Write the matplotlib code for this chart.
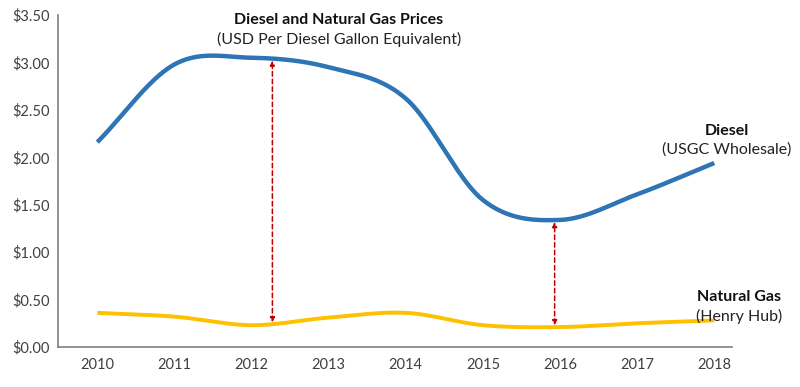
import numpy as np
import matplotlib
matplotlib.use("Agg")
import matplotlib.pyplot as plt

years = [2010, 2011, 2012, 2013, 2014, 2015, 2016, 2017, 2018]
diesel = [2.16, 2.98, 3.05, 2.95, 2.62, 1.55, 1.34, 1.61, 1.94]
natgas = [0.36, 0.32, 0.23, 0.31, 0.36, 0.23, 0.21, 0.25, 0.28]
ytick_vals = [0.0, 0.5, 1.0, 1.5, 2.0, 2.5, 3.0, 3.5]
ytick_labels = ["$0.00", "$0.50", "$1.00", "$1.50", "$2.00", "$2.50", "$3.00", "$3.50"]
arrow_years = [2012.27, 2015.93]

plt.rcParams['font.family'] = ['Lato', 'DejaVu Sans']


def smooth(x, y, n=40):
    """Catmull-Rom style smoothing (similar to Excel smoothed lines)."""
    x = np.asarray(x, float)
    y = np.asarray(y, float)
    px = np.concatenate([[2 * x[0] - x[1]], x, [2 * x[-1] - x[-2]]])
    py = np.concatenate([[2 * y[0] - y[1]], y, [2 * y[-1] - y[-2]]])
    xs, ys = [], []
    for i in range(1, len(px) - 2):
        t = np.linspace(0, 1, n, endpoint=(i == len(px) - 3))
        p0, p1, p2, p3 = (np.array([px[j], py[j]]) for j in range(i - 1, i + 3))
        t2, t3 = t * t, t * t * t
        pts = 0.5 * ((2 * p1)[:, None] + (-p0 + p2)[:, None] * t
                     + (2 * p0 - 5 * p1 + 4 * p2 - p3)[:, None] * t2
                     + (-p0 + 3 * p1 - 3 * p2 + p3)[:, None] * t3)
        xs.append(pts[0])
        ys.append(pts[1])
    return np.concatenate(xs), np.concatenate(ys)


fig = plt.figure(figsize=(8, 3.87), dpi=100)
ax = fig.add_axes([0.0725, 0.1034, 0.8425, 0.8576])

dx, dy = smooth(years, diesel)
gx, gy = smooth(years, natgas)
ax.plot(dx, dy, color="#2E75B6", lw=3.2, solid_capstyle="butt", zorder=3)
ax.plot(gx, gy, color="#FFC000", lw=2.8, solid_capstyle="butt", zorder=3)

for ay in arrow_years:
    top = np.interp(ay, dx, dy)
    bot = np.interp(ay, gx, gy)
    ax.annotate("", xy=(ay, top - 0.02), xytext=(ay, bot + 0.02),
                arrowprops=dict(arrowstyle="<|-|>", color="#C00000", lw=1.1,
                                ls=(0, (3, 2)), mutation_scale=7,
                                shrinkA=0, shrinkB=0), zorder=2)

ax.set_xlim(2009.49, 2018.23)
ax.set_ylim(0, 3.5)
ax.set_xticks(years)
ax.set_xticklabels([str(y) for y in years])
ax.set_yticks(ytick_vals)
ax.set_yticklabels(ytick_labels)
ax.tick_params(length=0, labelsize=10.5, colors="#404040", pad=8)
ax.tick_params(axis='y', pad=6)
for s in ["top", "right"]:
    ax.spines[s].set_visible(False)
for s in ["left", "bottom"]:
    ax.spines[s].set_color("#7F7F7F")
    ax.spines[s].set_linewidth(1.2)

fs = 11.5
ax.text(339 / 800, 1 - 20 / 387, "Diesel and Natural Gas Prices", transform=fig.transFigure,
        ha="center", va="center", fontsize=fs, fontweight="bold", color="#111111")
ax.text(339 / 800, 1 - 39 / 387, "(USD Per Diesel Gallon Equivalent)", transform=fig.transFigure,
        ha="center", va="center", fontsize=fs, color="#222222")
ax.text(727 / 800, 1 - 131 / 387, "Diesel", transform=fig.transFigure,
        ha="center", va="center", fontsize=fs, fontweight="bold", color="#111111")
ax.text(727 / 800, 1 - 150 / 387, "(USGC Wholesale)", transform=fig.transFigure,
        ha="center", va="center", fontsize=fs, color="#222222")
ax.text(739 / 800, 1 - 297 / 387, "Natural Gas", transform=fig.transFigure,
        ha="center", va="center", fontsize=fs, fontweight="bold", color="#111111")
ax.text(739 / 800, 1 - 316 / 387, "(Henry Hub)", transform=fig.transFigure,
        ha="center", va="center", fontsize=fs, color="#222222")

fig.savefig("out.png", dpi=100)
